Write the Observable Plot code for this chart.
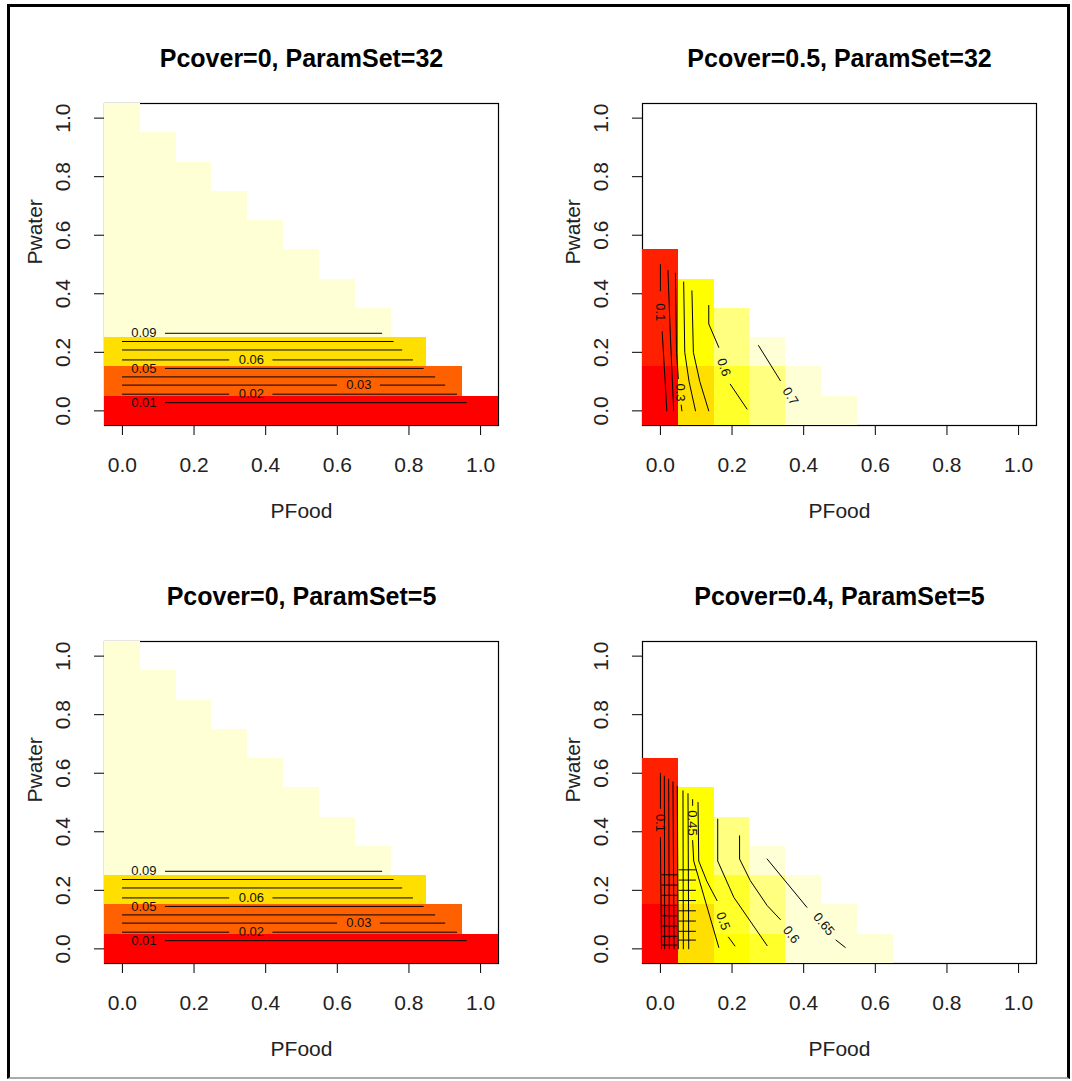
<!DOCTYPE html>
<html><head><meta charset="utf-8">
<script src="https://cdn.jsdelivr.net/npm/d3@7"></script>
<script src="https://cdn.jsdelivr.net/npm/@observablehq/plot@0.6"></script>
<style>
html,body{margin:0;padding:0;background:#fff}
body{width:1072px;height:1081px;overflow:hidden;position:relative;font-family:"Liberation Sans",Arial,sans-serif}
#frame{position:absolute;left:7px;top:4px;width:1057px;height:1070px;border:3px solid #000;border-bottom:2px solid #aaa;pointer-events:none}
.panel{position:absolute}
</style></head>
<body>
<div id="p0" class="panel" style="left:0;top:0"></div>
<div id="p1" class="panel" style="left:538px;top:0"></div>
<div id="p2" class="panel" style="left:0;top:538px"></div>
<div id="p3" class="panel" style="left:538px;top:538px"></div>
<div id="frame"></div>
<script>
// ---- data ----
const titles = ["Pcover=0, ParamSet=32", "Pcover=0.5, ParamSet=32", "Pcover=0, ParamSet=5", "Pcover=0.4, ParamSet=5"];
const xLabel = "PFood";
const yLabel = "Pwater";
const gridX = [0, 0.1, 0.2, 0.3, 0.4, 0.5, 0.6, 0.7, 0.8, 0.9, 1.0];
const gridY = [0, 0.1, 0.2, 0.3, 0.4, 0.5, 0.6, 0.7, 0.8, 0.9, 1.0];
const xTicks = [0, 0.2, 0.4, 0.6, 0.8, 1.0];
const yTicks = [0, 0.2, 0.4, 0.6, 0.8, 1.0];
const heatColors = ["#FF0000","#FF2000","#FF4000","#FF6000","#FF8000","#FF9F00","#FFBF00","#FFDF00","#FFFF00","#FFFF2A","#FFFF80","#FFFFD5"];

// z values, one row per Pwater value (0, 0.1, ...), columns PFood 0, 0.1, ...
const zTopLeft = [
  [0, 0, 0, 0, 0, 0, 0, 0, 0, 0, 0],
  [0.033, 0.033, 0.033, 0.033, 0.033, 0.033, 0.033, 0.033, 0.033, 0.033],
  [0.066, 0.066, 0.066, 0.066, 0.066, 0.066, 0.066, 0.066, 0.066],
  [0.1, 0.1, 0.1, 0.1, 0.1, 0.1, 0.1, 0.1],
  [0.1, 0.1, 0.1, 0.1, 0.1, 0.1, 0.1],
  [0.1, 0.1, 0.1, 0.1, 0.1, 0.1],
  [0.1, 0.1, 0.1, 0.1, 0.1],
  [0.1, 0.1, 0.1, 0.1],
  [0.1, 0.1, 0.1],
  [0.1, 0.1],
  [0.1]
];
const zTopRight = [
  [0.02, 0.46, 0.58, 0.66, 0.74, 0.75],
  [0.03, 0.46, 0.58, 0.66, 0.74],
  [0.08, 0.52, 0.65, 0.71],
  [0.08, 0.52, 0.65],
  [0.08, 0.52],
  [0.08]
];
const zBottomLeft = zTopLeft.map(r => r.slice());
const zBottomRight = [
  [0.03, 0.44, 0.52, 0.57, 0.66, 0.69, 0.70],
  [0.03, 0.44, 0.56, 0.62, 0.66, 0.69],
  [0.08, 0.50, 0.56, 0.62, 0.68],
  [0.08, 0.50, 0.60, 0.66],
  [0.08, 0.50, 0.60],
  [0.08, 0.50],
  [0.08]
];
const zMax = [0.1, 0.75, 0.1, 0.7];

// contour pieces: [level, [[PFood, Pwater], ...]]
const contoursTopLeft = [
  [0.01, [[0.12, 0.028], [0.96, 0.028]]],
  [0.02, [[0.0, 0.057], [0.297, 0.057]]],
  [0.02, [[0.42, 0.057], [0.933, 0.057]]],
  [0.03, [[0.0, 0.088], [0.598, 0.088]]],
  [0.03, [[0.72, 0.088], [0.90, 0.088]]],
  [0.04, [[0.0, 0.116], [0.872, 0.116]]],
  [0.05, [[0.12, 0.145], [0.84, 0.145]]],
  [0.06, [[0.0, 0.174], [0.297, 0.174]]],
  [0.06, [[0.42, 0.174], [0.81, 0.174]]],
  [0.07, [[0.0, 0.208], [0.78, 0.208]]],
  [0.08, [[0.0, 0.237], [0.756, 0.237]]],
  [0.09, [[0.12, 0.265], [0.724, 0.265]]]
];
const labelsTopLeft = [
  [0.01, 0.06, 0.028, 0], [0.02, 0.36, 0.057, 0], [0.03, 0.66, 0.088, 0],
  [0.05, 0.06, 0.145, 0], [0.06, 0.36, 0.174, 0], [0.09, 0.06, 0.265, 0]
];
const contoursTopRight = [
  [0.1, [[0.0, 0.50], [0.0, 0.41]]],
  [0.1, [[0.005, 0.27], [0.018, 0.0]]],
  [0.2, [[0.021, 0.48], [0.028, 0.25], [0.037, 0.0]]],
  [0.3, [[0.042, 0.47], [0.045, 0.2], [0.05, 0.11]]],
  [0.3, [[0.058, 0.02], [0.06, 0.0]]],
  [0.4, [[0.065, 0.44], [0.068, 0.2], [0.08, 0.1], [0.098, 0.0]]],
  [0.5, [[0.088, 0.41], [0.092, 0.2], [0.11, 0.1], [0.135, 0.0]]],
  [0.6, [[0.135, 0.36], [0.135, 0.297], [0.163, 0.217]]],
  [0.6, [[0.195, 0.091], [0.242, 0.006]]],
  [0.7, [[0.274, 0.223], [0.335, 0.103]]]
];
const labelsTopRight = [
  [0.1, 0.0, 0.337, 90], [0.3, 0.056, 0.063, 90], [0.6, 0.177, 0.149, 72], [0.7, 0.363, 0.05, 58]
];
const contoursBottomLeft = contoursTopLeft;
const labelsBottomLeft = labelsTopLeft;
const contoursBottomRight = [
  [0.1, [[0.0, 0.60], [0.0, 0.48]]],
  [0.1, [[0.0, 0.38], [0.003, 0.0]]],
  [0.15, [[0.011, 0.59], [0.012, 0.0]]],
  [0.2, [[0.023, 0.58], [0.025, 0.0]]],
  [0.25, [[0.035, 0.57], [0.038, 0.0]]],
  [0.3, [[0.047, 0.555], [0.05, 0.0]]],
  [0.35, [[0.063, 0.54], [0.064, 0.0]]],
  [0.4, [[0.077, 0.53], [0.079, 0.0]]],
  [0.45, [[0.09, 0.51], [0.09, 0.49]]],
  [0.45, [[0.09, 0.37], [0.093, 0.3], [0.163, 0.005]]],
  [0.5, [[0.105, 0.50], [0.107, 0.30], [0.13, 0.23], [0.158, 0.165]]],
  [0.5, [[0.19, 0.04], [0.208, 0.01]]],
  [0.55, [[0.16, 0.443], [0.16, 0.30], [0.205, 0.176], [0.298, 0.011]]],
  [0.6, [[0.221, 0.386], [0.221, 0.307], [0.251, 0.233], [0.298, 0.148], [0.335, 0.1]]],
  [0.65, [[0.298, 0.307], [0.409, 0.142]]],
  [0.65, [[0.49, 0.03], [0.516, 0.005]]]
];
const labelsBottomRight = [
  [0.1, 0.0, 0.43, 90], [0.45, 0.09, 0.43, 90], [0.5, 0.175, 0.095, 70],
  [0.6, 0.365, 0.048, 52], [0.65, 0.456, 0.084, 50]
];
// short cross pieces of the dense contours near PFood 0-0.1 (bottom right)
const rungsBottomRight = [0.27, 0.235, 0.2, 0.165, 0.13, 0.095, 0.06, 0.03];

// ---- drawing ----
const font = '"Liberation Sans", Arial, sans-serif';
function panel(el, title, zRows, zmax, contours, labels, rungs) {
  const cells = [];
  zRows.forEach((row, i) => row.forEach((z, j) => cells.push({x: gridX[j], y: gridY[i], z})));
  const pts = [];
  contours.forEach(([level, line], k) => line.forEach(([x, y]) => pts.push({id: k, level, x, y})));
  (rungs || []).forEach((y, k) => {
    pts.push({id: "r" + k, x: 0.052, y}); pts.push({id: "r" + k, x: 0.098, y});
    pts.push({id: "s" + k, x: 0.004, y: y - 0.017}); pts.push({id: "s" + k, x: 0.046, y: y - 0.017});
  });
  const labs = labels.map(([level, x, y, angle]) => ({level, x, y, angle}));
  const breaks = d3.range(1, 12).map(k => k * zmax / 12);
  const fmt = d3.format(".1f");
  const chart = Plot.plot({
    width: 534, height: 538,
    marginLeft: 104, marginRight: 36, marginTop: 103, marginBottom: 113,
    x: {domain: [-0.05, 1.05]},
    y: {domain: [-0.05, 1.05]},
    color: {type: "threshold", domain: breaks, range: heatColors},
    style: {fontFamily: font, fontSize: "21px", background: "transparent", color: "#000"},
    marks: [
      Plot.frame({stroke: "#000", strokeWidth: 1.2}),
      Plot.rect(cells, {x1: d => d.x - 0.05, x2: d => d.x + 0.05, y1: d => d.y - 0.05, y2: d => d.y + 0.05, fill: "z", shapeRendering: "crispEdges"}),
      Plot.line(pts, {x: "x", y: "y", z: "id", stroke: "#000", strokeWidth: 1}),
      Plot.text(labs, {x: "x", y: "y", text: d => String(d.level), rotate: "angle", fontSize: 13, letterSpacing: "1.5px", fill: "#111"}),
      Plot.axisX({ticks: xTicks, tickSize: 10, tickPadding: 22, tickFormat: fmt, label: null, fill: "#222", stroke: "#000"}),
      Plot.axisY({ticks: yTicks, tickSize: 10, tickFormat: () => "", label: null, stroke: "#000"}),
      Plot.text(yTicks, {y: d => d, frameAnchor: "left", dx: -41, rotate: -90, text: fmt, textAnchor: "middle", fill: "#222"}),
      Plot.text([title], {frameAnchor: "top", dy: -54, fontWeight: "bold", fontSize: 25, fill: "#000"}),
      Plot.text([xLabel], {frameAnchor: "bottom", dy: 92, fill: "#222"}),
      Plot.text([yLabel], {frameAnchor: "left", dx: -69, rotate: -90, fill: "#222"})
    ]
  });
  document.getElementById(el).appendChild(chart);
}
panel("p0", titles[0], zTopLeft, zMax[0], contoursTopLeft, labelsTopLeft);
panel("p1", titles[1], zTopRight, zMax[1], contoursTopRight, labelsTopRight);
panel("p2", titles[2], zBottomLeft, zMax[2], contoursBottomLeft, labelsBottomLeft);
panel("p3", titles[3], zBottomRight, zMax[3], contoursBottomRight, labelsBottomRight, rungsBottomRight);
</script>
</body></html>
